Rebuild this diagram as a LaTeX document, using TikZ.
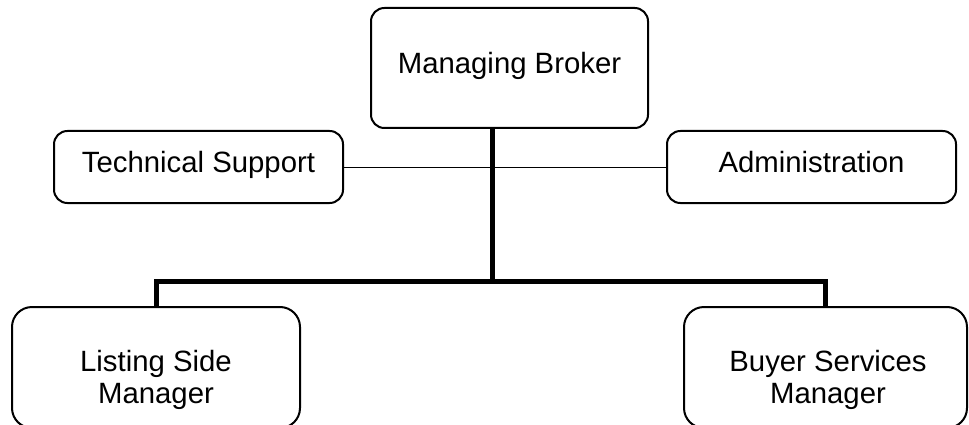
\documentclass[tikz,border=0pt]{standalone}
\usepackage{fontspec}
\setmainfont{Liberation Sans}
\tikzstyle{unit}=[draw,line width=1.5pt,rounded corners=10pt,inner sep=0pt,align=center,text height=12.75pt,text depth=4.5pt,font=\fontsize{22}{24}\selectfont]
\tikzstyle{lowunit}=[draw,line width=1.5pt,rounded corners=15pt,inner sep=0pt]
\tikzstyle{caption}=[inner sep=0pt,align=center,font=\fontsize{22}{24}\selectfont]
\tikzstyle{trunk}=[draw,line width=3.75pt,-]
\tikzstyle{link}=[draw,line width=0.75pt,-]

\begin{document}
\begin{tikzpicture}[x=0.75pt,y=-0.75pt]
                    \useasboundingbox (0,0) rectangle (969,424);

                    \node[unit,minimum width=207.75pt,minimum height=90pt] (broker) at (509.5,68) {Managing Broker};
                    \node[unit,minimum width=216.75pt,minimum height=54pt] (tech) at (198.5,167) {Technical Support};
                    \node[unit,minimum width=216.75pt,minimum height=54pt] (admin) at (811.5,167) {Administration};
                    \node[lowunit,minimum width=216pt,minimum height=90.75pt] (listing) at (156,367.5) {};
                    \node[lowunit,minimum width=212.25pt,minimum height=90.75pt] (buyer) at (825.5,367.5) {};

                    \node[caption] (listingtext) at (156,380) {Listing Side\\Manager};
                    \node[caption] (buyertext) at (828,380) {Buyer Services\\Manager};

                    \coordinate (hub) at (492,281);

                    \path[link] (tech) -- (admin);
                    \path[trunk] (broker.south -| hub) -- (hub);
                    \path[trunk] (listing.north) |- (hub) -| (buyer.north);
                \end{tikzpicture}
\end{document}
